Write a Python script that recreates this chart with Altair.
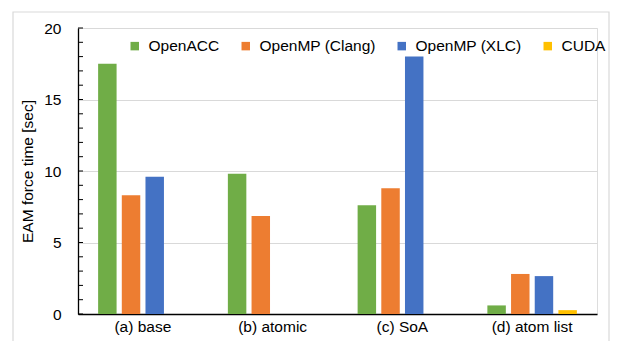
import altair as alt
import pandas as pd

categories = ["(a) base", "(b) atomic", "(c) SoA", "(d) atom list"]
series = ["OpenACC", "OpenMP (Clang)", "OpenMP (XLC)", "CUDA"]
openacc = [17.5, 9.8, 7.6, 0.6]
clang = [8.3, 6.85, 8.8, 2.8]
xlc = [9.6, None, 18.0, 2.65]
cuda = [None, None, None, 0.27]
colors = ["#70AD47", "#ED7D31", "#4472C4", "#FFC000"]
major_ticks = [0, 5, 10, 15, 20]
minor_ticks = list(range(0, 21))

rows = []
for s, vals in zip(series, [openacc, clang, xlc, cuda]):
    for c, v in zip(categories, vals):
        if v is not None:
            rows.append({"category": c, "series": s, "value": v})
df = pd.DataFrame(rows)

FONT = "Liberation Sans"
FS = 15.5

bars = alt.Chart(df).mark_bar().encode(
    x=alt.X("category:N", sort=categories,
            scale=alt.Scale(paddingInner=0.27, paddingOuter=0.135),
            axis=alt.Axis(title=None, labelAngle=0, ticks=False, labelPadding=5,
                          domainColor="#000000", domainWidth=1.3, grid=False,
                          labelFont=FONT, labelFontSize=FS, labelColor="#000000")),
    xOffset=alt.XOffset("series:N", sort=series,
                        scale=alt.Scale(domain=series, paddingInner=0.22, paddingOuter=0.11)),
    y=alt.Y("value:Q", scale=alt.Scale(domain=[0, 20], nice=False),
            axis=alt.Axis(title="EAM force time [sec]", values=major_ticks, ticks=False,
                          labelPadding=17, grid=True, gridColor="#D9D9D9", gridWidth=1,
                          domainColor="#000000", domainWidth=1.3,
                          labelFont=FONT, labelFontSize=FS, labelColor="#000000",
                          titleFont=FONT, titleFontSize=FS, titleFontWeight="normal",
                          titleColor="#000000", titlePadding=8)),
    color=alt.Color("series:N", sort=series,
                    scale=alt.Scale(domain=series, range=colors),
                    legend=alt.Legend(title=None, orient="none", direction="horizontal",
                                      legendX=49, legendY=10, symbolType="square",
                                      symbolSize=72, symbolStrokeWidth=0,
                                      labelFont=FONT, labelFontSize=FS,
                                      labelColor="#000000", labelOffset=6,
                                      columnPadding=18, padding=0)),
)

tick_df = pd.DataFrame({"t": minor_ticks})
minor = alt.Chart(tick_df).mark_rule(color="#000000", strokeWidth=1).encode(
    y=alt.Y("t:Q"),
    x=alt.value(0),
    x2=alt.value(5),
)

border = alt.Chart(pd.DataFrame({"a": [0]})).mark_rect(
    fillOpacity=0, stroke="#D9D9D9", strokeWidth=1.2
).encode(
    x=alt.value(-65), x2=alt.value(531), y=alt.value(-16), y2=alt.value(400)
)

chart = alt.layer(border, bars, minor).properties(
    width=519, height=286,
    autosize=alt.AutoSizeParams(type="none"),
    padding={"left": 70, "top": 20, "right": 14, "bottom": 27},
).configure_view(stroke=None).configure(background="white")

chart.save("out.html", embed_options={"renderer": "svg", "actions": False})
